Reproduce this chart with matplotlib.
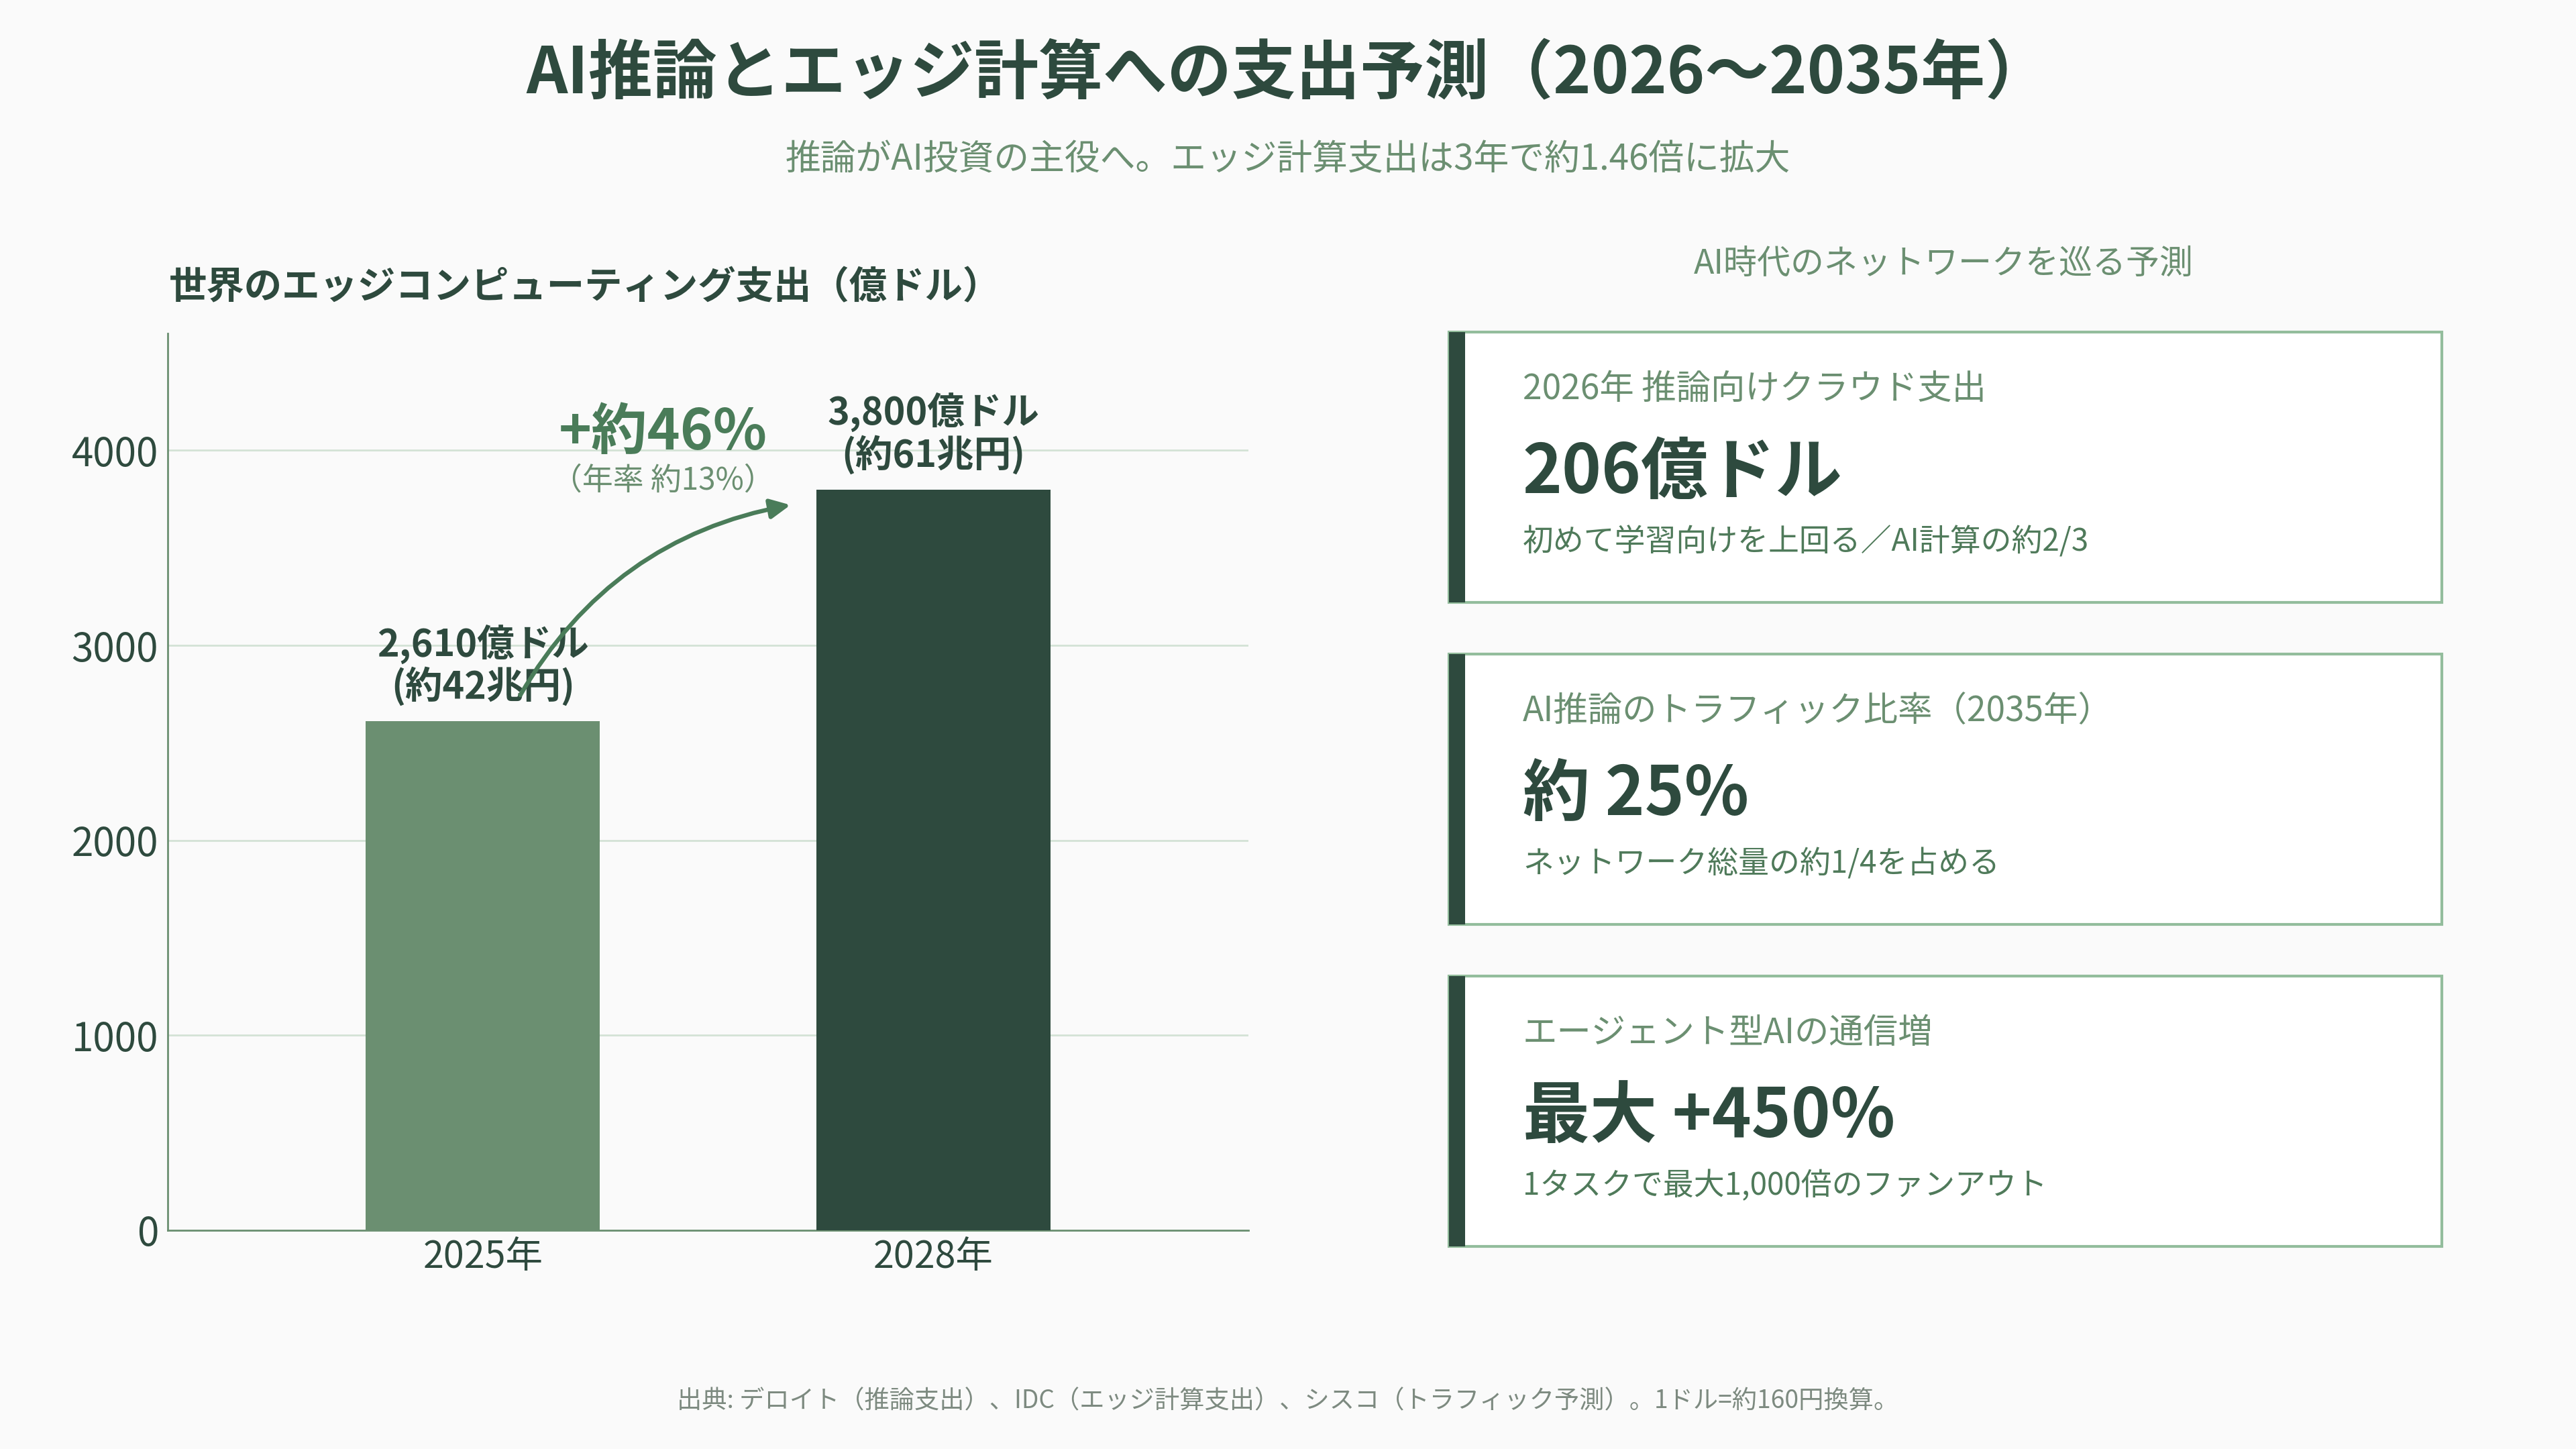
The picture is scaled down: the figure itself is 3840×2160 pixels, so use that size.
import matplotlib
matplotlib.use("Agg")
import matplotlib.pyplot as plt
from matplotlib.patches import Rectangle, FancyArrowPatch

plt.rcParams['font.family'] = ['Noto Sans CJK JP', 'DejaVu Sans']

# data
years = ["2025年", "2028年"]
spend = [2610, 3800]
bar_labels = ["2,610億ドル\n(約42兆円)", "3,800億ドル\n(約61兆円)"]
y_ticks = [0, 1000, 2000, 3000, 4000]
growth_text = "+約46%"
growth_sub = "（年率 約13%）"

card_labels = ["2026年 推論向けクラウド支出", "AI推論のトラフィック比率（2035年）", "エージェント型AIの通信増"]
card_values = ["206億ドル", "約 25%", "最大 +450%"]
card_notes = ["初めて学習向けを上回る／AI計算の約2/3", "ネットワーク総量の約1/4を占める", "1タスクで最大1,000倍のファンアウト"]

DARK = "#2e4a3e"
MID = "#6b8f71"
ACC = "#4a7c59"
LINE = "#93bd9c"
BG = "#fafafa"

W, H = 3840, 2160
fig = plt.figure(figsize=(19.2, 10.8), dpi=200, facecolor=BG)

def fx(px):
    return px / W

def fy(py):
    return 1 - py / H

# titles
fig.text(0.5, fy(110), "AI推論とエッジ計算への支出予測（2026〜2035年）", ha='center', va='center',
         fontsize=34.5, fontweight='bold', color=DARK)
fig.text(0.5, fy(238), "推論がAI投資の主役へ。エッジ計算支出は3年で約1.46倍に拡大", ha='center', va='center',
         fontsize=19, color=MID)

# bar chart
ax = fig.add_axes([fx(250), fy(1834), (1861 - 250) / W, (1834 - 497) / H])
ax.set_facecolor(BG)
x = list(range(len(years)))
bars = ax.bar(x, spend, width=0.52, color=[MID, DARK], zorder=3)
ax.set_xlim(-0.7, 1.7)
ax.set_ylim(0, 4600)
ax.set_yticks(y_ticks)
ax.set_xticks(x)
ax.set_xticklabels(years)
ax.tick_params(axis='y', length=0, labelsize=21, labelcolor=DARK, pad=5)
ax.tick_params(axis='x', length=0, labelsize=20, labelcolor=DARK, pad=4)
ax.grid(axis='y', color="#d3e2d5", linewidth=1.0, zorder=0)
ax.set_axisbelow(True)
for s in ['top', 'right']:
    ax.spines[s].set_visible(False)
for s in ['left', 'bottom']:
    ax.spines[s].set_color(MID)
    ax.spines[s].set_linewidth(1.0)

for xi, v, lab in zip(x, spend, bar_labels):
    ax.annotate(lab, (xi, v), xytext=(0, 8), textcoords='offset points', ha='center', va='bottom',
                fontsize=20, fontweight='bold', color=DARK, linespacing=1.1, zorder=4)

fig.text(fx(252), fy(429), "世界のエッジコンピューティング支出（億ドル）", ha='left', va='center',
         fontsize=20.3, fontweight='bold', color=DARK)

# growth arrow
arrow = FancyArrowPatch((0.083, spend[0] + 135), (0.683, spend[1] - 80),
                        connectionstyle="arc3,rad=-0.23",
                        arrowstyle="-|>,head_length=0.45,head_width=0.22", mutation_scale=20,
                        color=ACC, linewidth=2.3, shrinkA=0, shrinkB=0, zorder=5)
ax.add_patch(arrow)
ax.text(0.40, 4090, growth_text, ha='center', va='center', fontsize=30, fontweight='bold', color=ACC, zorder=5)
ax.text(0.40, 3846, growth_sub, ha='center', va='center', fontsize=16.5, color=MID, zorder=5)

# right panel
fig.text(fx(2897), fy(394), "AI時代のネットワークを巡る予測", ha='center', va='center', fontsize=18, color=MID)

card_left, card_right = 2160, 3640
card_h = 403
card_tops = [495, 975, 1455]
for top, lab, val, note in zip(card_tops, card_labels, card_values, card_notes):
    fig.add_artist(Rectangle((fx(card_left), fy(top + card_h)), (card_right - card_left) / W, card_h / H,
                             transform=fig.transFigure, facecolor="white", edgecolor=LINE, linewidth=1.5))
    fig.add_artist(Rectangle((fx(card_left), fy(top + card_h)), 24 / W, card_h / H,
                             transform=fig.transFigure, facecolor=DARK, edgecolor='none'))
    fig.text(fx(2270), fy(top + 85), lab, ha='left', va='center', fontsize=18.5, color=MID)
    fig.text(fx(2270), fy(top + 210), val, ha='left', va='center', fontsize=36, fontweight='bold', color=DARK)
    fig.text(fx(2270), fy(top + 313), note, ha='left', va='center', fontsize=16.5, color="#4f7a5a")

fig.text(0.5, fy(2089), "出典: デロイト（推論支出）、IDC（エッジ計算支出）、シスコ（トラフィック予測）。1ドル=約160円換算。",
         ha='center', va='center', fontsize=13.4, color="#7d8a80")

fig.savefig("out.png", dpi=200, facecolor=BG)
